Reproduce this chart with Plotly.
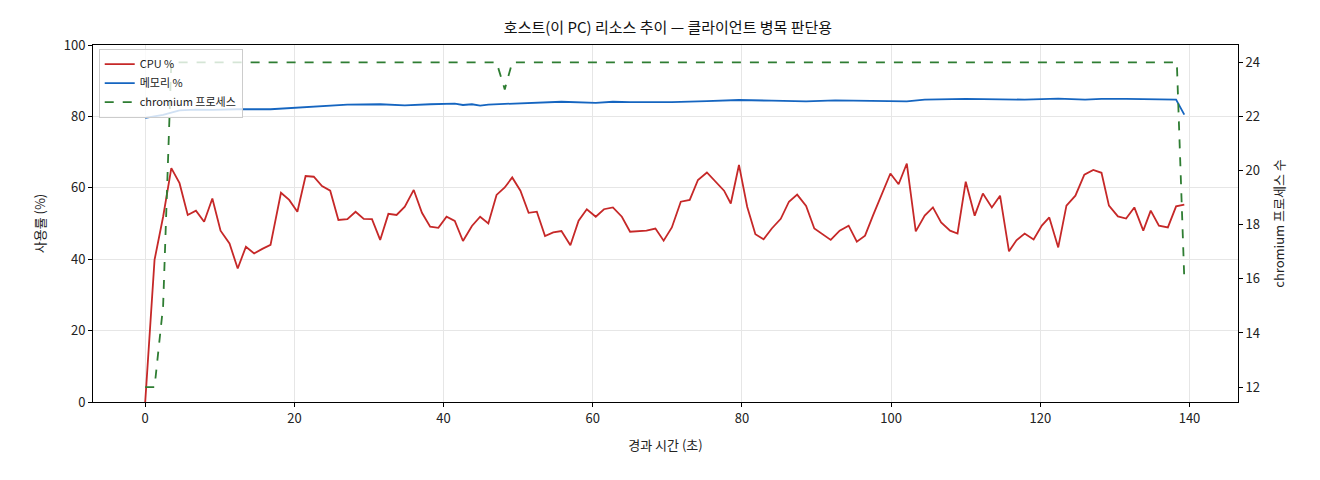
import plotly.graph_objects as go

cpu_t = [0, 1.25, 2.4, 3.5, 4.6, 5.7, 6.8, 7.9, 9.0, 10.1, 11.3, 12.4, 13.5, 14.6, 15.7, 16.8,
         18.2, 19.3, 20.4, 21.5, 22.6, 23.7, 24.8, 25.9, 27.1, 28.2, 29.3, 30.4, 31.5, 32.6,
         33.7, 34.8, 36.0, 37.1, 38.2, 39.3, 40.4, 41.5, 42.6, 43.8, 44.9, 46.0, 47.1, 48.2,
         49.2, 50.3, 51.4, 52.5, 53.6, 54.7, 55.8, 57.0, 58.1, 59.2, 60.4, 61.5, 62.7, 63.9,
         65.0, 66.1, 67.2, 68.4, 69.5, 70.6, 71.8, 73.0, 74.1, 75.3, 76.5, 77.6, 78.5, 79.6,
         80.7, 81.8, 82.9, 84.0, 85.2, 86.3, 87.4, 88.6, 89.7, 90.8, 91.9, 93.1, 94.3, 95.4,
         96.5, 97.6, 98.8, 99.9, 101.0, 102.1, 103.3, 104.5, 105.6, 106.7, 107.9, 108.9, 110.0,
         111.2, 112.3, 113.5, 114.6, 115.8, 116.8, 117.9, 119.1, 120.2, 121.2, 122.4, 123.5,
         124.7, 125.9, 127.1, 128.2, 129.2, 130.4, 131.5, 132.6, 133.8, 134.8, 135.9, 137.1,
         138.2, 139.3]
cpu = [0, 39.8, 51.9, 65.5, 61.3, 52.4, 53.6, 50.5, 57.0, 48.0, 44.4, 37.4, 43.5, 41.6, 42.9, 44.0,
       58.6, 56.6, 53.3, 63.3, 63.1, 60.5, 59.2, 51.0, 51.2, 53.3, 51.3, 51.2, 45.4, 52.7,
       52.4, 54.7, 59.4, 53.0, 49.1, 48.8, 51.9, 50.7, 45.1, 49.3, 51.9, 50.0, 58.0, 60.1,
       62.9, 59.2, 53.0, 53.3, 46.5, 47.5, 47.9, 43.9, 50.8, 54.0, 51.9, 54.0, 54.5, 51.9,
       47.7, 47.9, 48.0, 48.6, 45.2, 48.9, 56.1, 56.6, 62.2, 64.3, 61.7, 59.2, 55.6, 66.4,
       54.7, 47.0, 45.6, 48.6, 51.3, 56.1, 58.1, 54.9, 48.6, 47.1, 45.4, 48.0, 49.4, 44.9,
       46.6, 52.4, 58.2, 64.0, 61.0, 66.8, 47.8, 52.2, 54.5, 50.3, 48.0, 47.2, 61.7,
       52.2, 58.4, 54.5, 57.8, 42.2, 45.3, 47.2, 45.5, 49.4, 51.7, 43.3, 55.0,
       57.8, 63.7, 65.0, 64.2, 55.0, 52.0, 51.4, 54.5, 48.0, 53.6, 49.4, 48.9,
       54.8, 55.3]

mem_t = [0, 2.4, 4.6, 6.8, 9.0, 12.4, 16.8, 20.4, 24.8, 27.1, 31.5, 34.8, 38.2, 41.5, 42.6, 43.8,
         44.9, 46.0, 48.2, 50.3, 55.8, 60.4, 62.7, 65.0, 70.6, 75.3, 79.6, 84.0, 88.6, 92.5,
         97.6, 102.1, 104.5, 110.0, 117.9, 122.4, 126.0, 128.2, 131.5, 135.9, 138.2, 139.3]
mem = [79.6, 80.4, 81.7, 81.9, 81.8, 82.0, 82.0, 82.5, 82.9, 83.3, 83.4, 83.1, 83.4, 83.6, 83.2, 83.4,
       83.0, 83.3, 83.5, 83.7, 84.1, 83.8, 84.1, 84.0, 84.0, 84.3, 84.6, 84.4, 84.2, 84.5,
       84.3, 84.2, 84.7, 84.9, 84.7, 85.0, 84.7, 84.9, 84.9, 84.9, 84.7, 80.5]

chr_t = [0, 1.25, 2.4, 3.5, 47.1, 48.2, 49.2, 138.3, 139.3]
chrom = [12, 12, 15, 24, 24, 23, 24, 24, 16]

font = "Noto Sans CJK KR, sans-serif"
fig = go.Figure()
fig.add_trace(go.Scatter(x=cpu_t, y=cpu, mode="lines", name="CPU %",
                         line=dict(color="#c62828", width=1.8)))
fig.add_trace(go.Scatter(x=mem_t, y=mem, mode="lines", name="메모리 %",
                         line=dict(color="#1565c0", width=1.8)))
fig.add_trace(go.Scatter(x=chr_t, y=chrom, mode="lines", name="chromium 프로세스", yaxis="y2",
                         line=dict(color="#2e7d32", width=1.8, dash="dash")))

axcommon = dict(showline=True, linecolor="black", linewidth=1, ticks="outside", ticklen=4,
                tickcolor="black", tickfont=dict(size=13, color="#222"), zeroline=False)
fig.update_layout(
    width=1320, height=480, paper_bgcolor="white", plot_bgcolor="white",
    margin=dict(l=85, r=90, t=37, b=86),
    font=dict(family=font, color="#222"),
    title=dict(text="호스트(이 PC) 리소스 추이 — 클라이언트 병목 판단용", x=0.5, xanchor="center",
               y=0.958, yanchor="middle", font=dict(size=15, color="#111")),
    xaxis=dict(range=[-7, 146.5], dtick=20, showgrid=True, gridcolor="#e6e6e6", mirror=True,
               title=dict(text="경과 시간 (초)", font=dict(size=13)), **axcommon),
    yaxis=dict(range=[0, 100], dtick=20, showgrid=True, gridcolor="#e6e6e6", mirror=True,
               title=dict(text="사용률 (%)", font=dict(size=13)), **axcommon),
    yaxis2=dict(overlaying="y", side="right", range=[11.45, 24.64], dtick=2, showgrid=False,
                title=dict(text="chromium 프로세스 수", font=dict(size=13)), **axcommon),
    legend=dict(x=0.005, y=0.99, xanchor="left", yanchor="top", bgcolor="rgba(255,255,255,0.8)",
                bordercolor="#cccccc", borderwidth=1, font=dict(size=11)),
    showlegend=True,
)
fig.write_html("out.html")
